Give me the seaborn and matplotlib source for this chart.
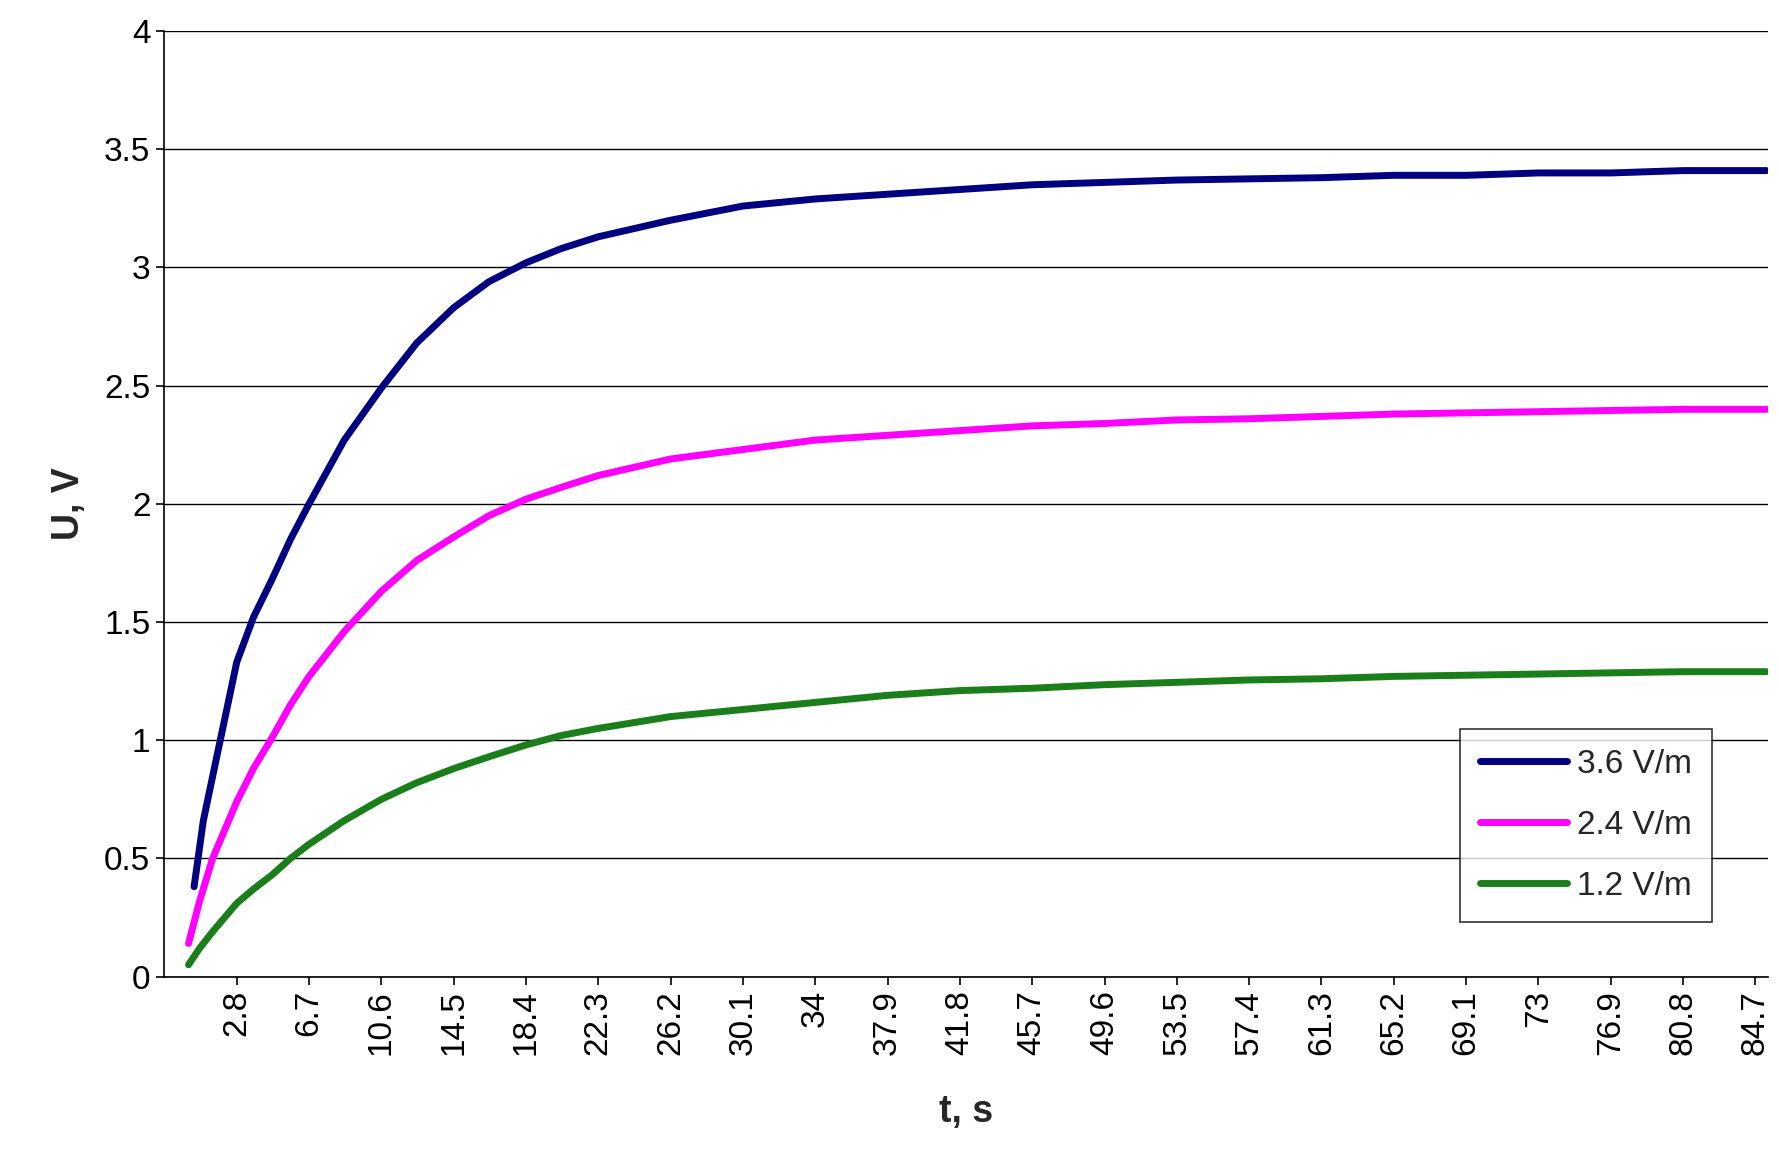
import matplotlib
matplotlib.use("Agg")
import matplotlib.pyplot as plt
import seaborn as sns
import pandas as pd

# values
t_blue = [0.5, 1.0, 1.75, 2.8, 3.7, 4.7, 5.7, 6.7, 8.6, 10.6, 12.5, 14.5, 16.4, 18.4, 20.3,
          22.3, 26.2, 30.1, 34, 37.9, 41.8, 45.7, 49.6, 53.5, 57.4, 61.3, 65.2, 69.1, 73,
          76.9, 80.8, 85.3]
u_blue = [0.38, 0.66, 0.94, 1.33, 1.52, 1.68, 1.85, 2.0, 2.27, 2.49, 2.68, 2.83, 2.94, 3.02,
          3.08, 3.13, 3.2, 3.26, 3.29, 3.31, 3.33, 3.35, 3.36, 3.37, 3.375, 3.38, 3.39, 3.39,
          3.40, 3.40, 3.41, 3.41]

t_rest = [0.2, 0.8, 1.5, 2.8, 3.7, 4.7, 5.7, 6.7, 8.6, 10.6, 12.5, 14.5, 16.4, 18.4, 20.3,
          22.3, 26.2, 30.1, 34, 37.9, 41.8, 45.7, 49.6, 53.5, 57.4, 61.3, 65.2, 69.1, 73,
          76.9, 80.8, 85.3]
u_pink = [0.14, 0.32, 0.50, 0.74, 0.88, 1.01, 1.15, 1.27, 1.46, 1.63, 1.76, 1.86, 1.95, 2.02,
          2.07, 2.12, 2.19, 2.23, 2.27, 2.29, 2.31, 2.33, 2.34, 2.355, 2.36, 2.37, 2.38, 2.385,
          2.39, 2.395, 2.40, 2.40]
u_green = [0.05, 0.12, 0.19, 0.31, 0.37, 0.43, 0.50, 0.56, 0.66, 0.75, 0.82, 0.88, 0.93, 0.98,
           1.02, 1.05, 1.10, 1.13, 1.16, 1.19, 1.21, 1.22, 1.235, 1.245, 1.255, 1.26, 1.27,
           1.275, 1.28, 1.285, 1.29, 1.29]

xticks = [2.8, 6.7, 10.6, 14.5, 18.4, 22.3, 26.2, 30.1, 34, 37.9, 41.8, 45.7, 49.6, 53.5,
          57.4, 61.3, 65.2, 69.1, 73, 76.9, 80.8, 84.7]

series = [("3.6 V/m", t_blue, u_blue, "#000080"),
          ("2.4 V/m", t_rest, u_pink, "#ff00ff"),
          ("1.2 V/m", t_rest, u_green, "#1a7f1a")]

sns.set_theme(style="white")
plt.rcParams["font.family"] = ["Arial", "Liberation Sans", "DejaVu Sans"]

fig = plt.figure(figsize=(17.79, 11.53), dpi=100)
ax = fig.add_axes([0.092, 0.153, 0.902, 0.82])

for name, t, u, c in series:
    df = pd.DataFrame({"t": t, "u": u})
    sns.lineplot(data=df, x="t", y="u", ax=ax, color=c, lw=5, label=name, sort=False)

ax.set_xlim(-1.14, 85.4)
ax.set_ylim(0, 4)
ax.set_yticks([0, 0.5, 1, 1.5, 2, 2.5, 3, 3.5, 4])
ax.set_yticklabels(["0", "0.5", "1", "1.5", "2", "2.5", "3", "3.5", "4"])
ax.set_xticks(xticks)
ax.set_xticklabels([f"{v:g}" for v in xticks], rotation=90)
ax.tick_params(axis="both", labelsize=24, length=6, width=1.2, direction="out",
               bottom=True, left=True, colors="black")
ax.grid(axis="y", color="black", lw=1)
for s in ["top", "right"]:
    ax.spines[s].set_visible(False)
for s in ["left", "bottom"]:
    ax.spines[s].set_color("black")
    ax.spines[s].set_linewidth(1.2)

ax.set_xlabel("t, s", fontsize=27, fontweight="bold", labelpad=28)
ax.set_ylabel("U, V", fontsize=27, fontweight="bold", labelpad=12)

leg = ax.legend(loc="lower right", bbox_to_anchor=(0.975, 0.04), fontsize=24,
                frameon=True, fancybox=False, handlelength=2.6, borderpad=0.6,
                labelspacing=0.9, handletextpad=0.3)
leg.get_frame().set_edgecolor("black")
leg.get_frame().set_linewidth(1.2)

fig.savefig("out.png", dpi=100)
